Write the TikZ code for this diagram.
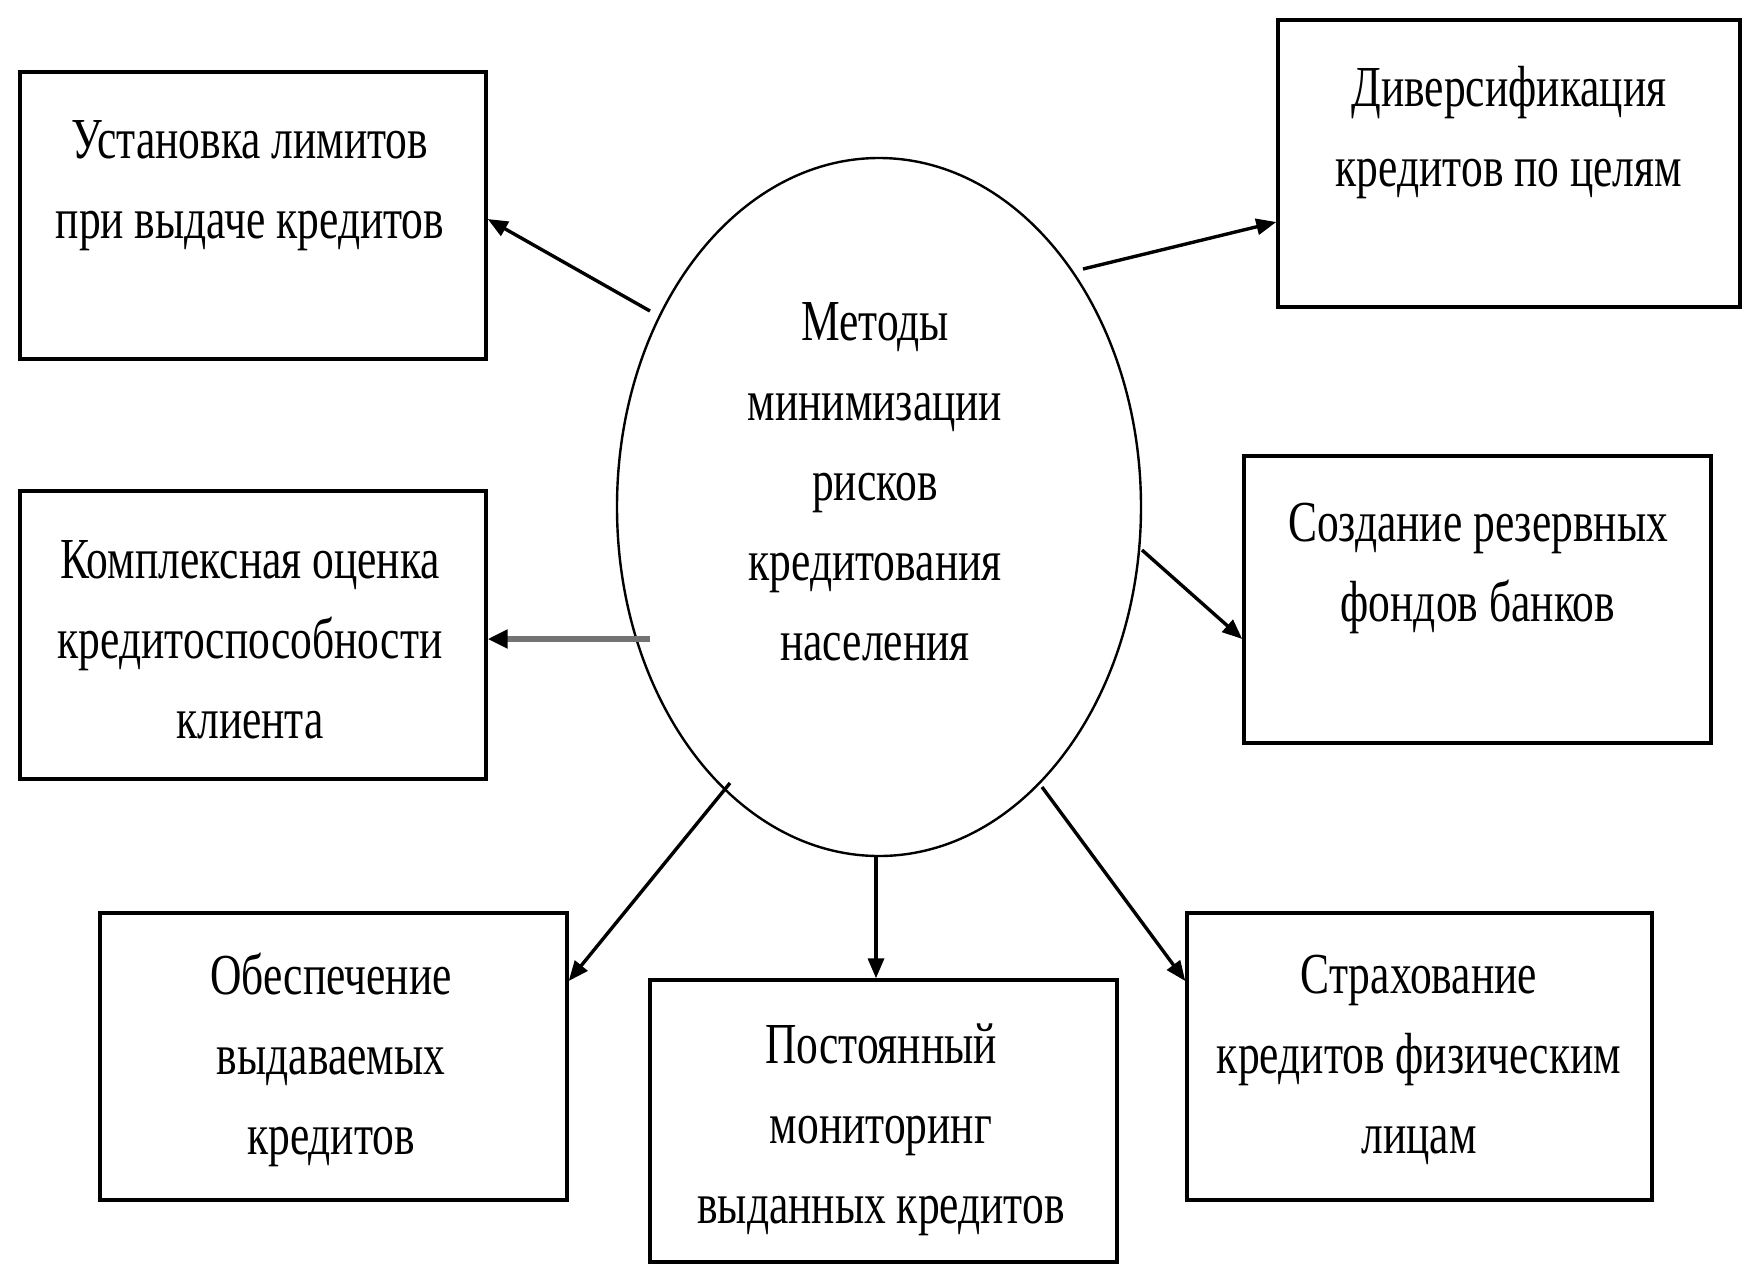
\documentclass[tikz,border=0pt]{standalone}
\usepackage{fontspec}
\setmainfont{Liberation Serif}[FakeStretch=0.75]
\usetikzlibrary{arrows.meta,shapes.geometric}
\begin{document}
\begin{tikzpicture}[x=0.5pt,y=-0.5pt,
  boxnode/.style={draw=black,line width=1.7pt,rectangle,inner sep=0pt,minimum width=233pt,minimum height=143.5pt},
  lbl/.style={align=center,font=\fontsize{29}{40}\selectfont,inner sep=0pt},
  arr/.style={line width=1.7pt,-{Triangle[length=10pt,width=8pt]}},
  grayarr/.style={line width=3pt,draw=black!55,-{Triangle[length=10pt,width=9pt,fill=black,color=black]}}]
\useasboundingbox[fill=white] (0,0) rectangle (1742,1266);
% central ellipse
\node[draw,ellipse,line width=1.2pt,minimum width=262pt,minimum height=349pt,inner sep=0pt] (e) at (879,507) {};
\node[lbl] (etext) at (875,482) {Методы\\минимизации\\рисков\\кредитования\\населения};
% boxes
\node[boxnode] (b1) at (253,215.5) {};
\node[lbl] (t1) at (250,186) {Установка лимитов\\при выдаче кредитов};
\node[boxnode,minimum height=144pt] (b2) at (253,635) {};
\node[lbl] (t2) at (250,640) {Комплексная оценка\\кредитоспособности\\клиента};
\node[boxnode,minimum width=231pt] (b3) at (1509,163.5) {};
\node[lbl] (t3) at (1509,133) {Диверсификация\\кредитов по целям};
\node[boxnode,minimum width=233.5pt] (b4) at (1477.5,599.5) {};
\node[lbl] (t4) at (1478,568) {Создание резервных\\фондов банков};
\node[boxnode,minimum width=233.5pt] (b5) at (333.5,1056.5) {};
\node[lbl] (t5) at (331,1060) {Обеспечение\\выдаваемых\\кредитов};
\node[boxnode,minimum width=233.5pt,minimum height=141pt] (b6) at (883.5,1121) {};
\node[lbl] (t6) at (881,1130) {Постоянный\\мониторинг\\выданных кредитов};
\node[boxnode,minimum width=232.5pt] (b7) at (1419.5,1056.5) {};
\node[lbl] (t7) at (1419,1060) {Страхование\\кредитов физическим\\лицам};
% tails on the ellipse
\coordinate (c1) at (650,311);
\coordinate (c2) at (650,639);
\coordinate (c3) at (1083,269);
\coordinate (c4) at (1142,550);
\coordinate (c5) at (730,783);
\coordinate (c6) at (876,855);
\coordinate (c7) at (1042,787);
% connectors
\draw[arr] (c1) -- ([yshift=-1.75pt]b1.east);
\draw[grayarr] (c2) -- (c2 -| b2.east);
\draw[arr] (c3) -- ([yshift=-29.25pt]b3.west);
\draw[arr] (c4) -- ([yshift=-19.75pt]b4.west);
\draw[arr] (c5) -- ([yshift=37.75pt]b5.east);
\draw[arr] (c6) -- (c6 |- b6.north);
\draw[arr] (c7) -- ([yshift=37.75pt]b7.west);
\end{tikzpicture}
\end{document}
